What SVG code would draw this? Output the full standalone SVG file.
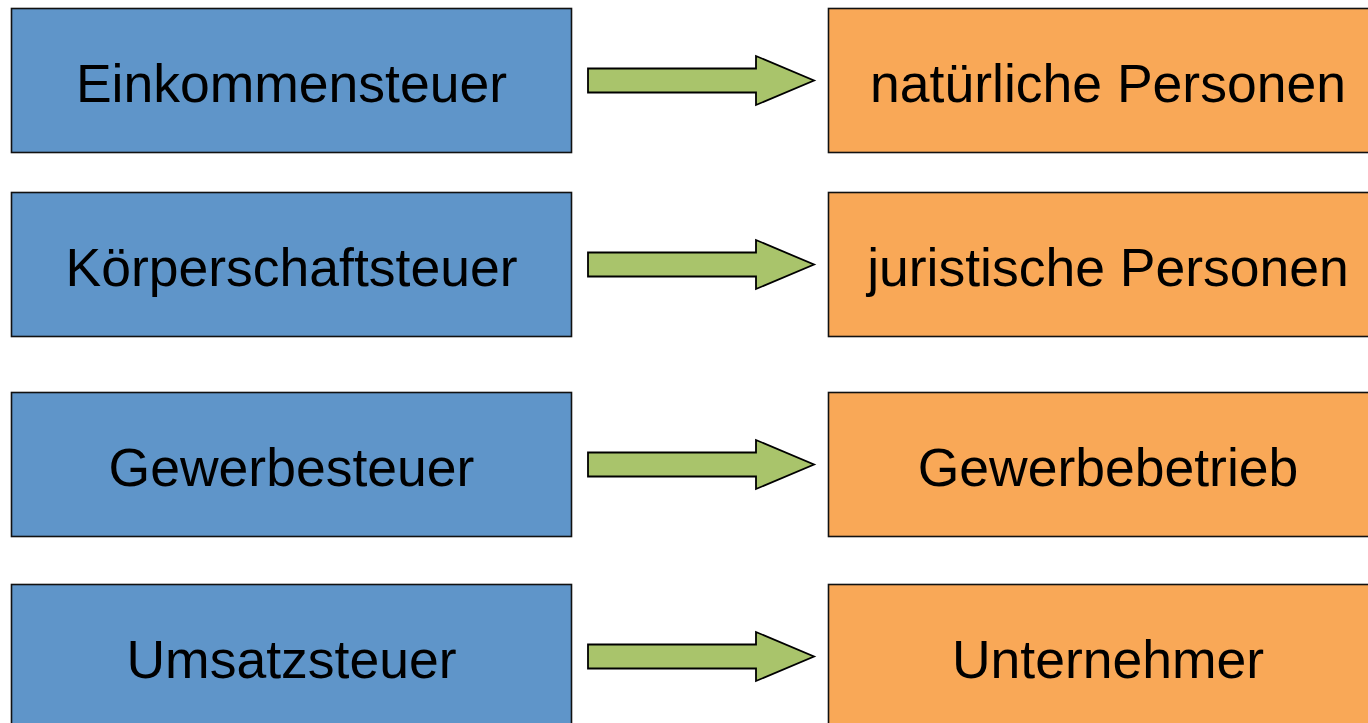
<svg xmlns="http://www.w3.org/2000/svg" width="1368" height="723" viewBox="0 0 1368 723">
<style>
.l{fill:#5f95c9;stroke:#111;stroke-width:1.6}
.r{fill:#f9a857;stroke:#111;stroke-width:1.6}
.a{fill:#a9c46b;stroke:#000;stroke-width:1.8;stroke-linejoin:miter}
text{font-family:"Liberation Sans",Arial,sans-serif;font-size:53.5px;fill:#000;text-anchor:middle}
</style>
<rect width="1368" height="723" fill="#fff"/>
<g id="n1"><rect class="l" x="11.5" y="8.5" width="560" height="144"/><text x="291.5" y="102">Einkommensteuer</text></g>
<g id="n2"><rect class="l" x="11.5" y="192.5" width="560" height="144"/><text x="291.5" y="286">Körperschaftsteuer</text></g>
<g id="n3"><rect class="l" x="11.5" y="392.5" width="560" height="144"/><text x="291.5" y="486">Gewerbesteuer</text></g>
<g id="n4"><rect class="l" x="11.5" y="584.5" width="560" height="144"/><text x="291.5" y="678">Umsatzsteuer</text></g>
<g id="m1"><rect class="r" x="828.5" y="8.5" width="560" height="144"/><text x="1108" y="102">natürliche Personen</text></g>
<g id="m2"><rect class="r" x="828.5" y="192.5" width="560" height="144"/><text x="1108" y="286">juristische Personen</text></g>
<g id="m3"><rect class="r" x="828.5" y="392.5" width="560" height="144"/><text x="1108" y="486">Gewerbebetrieb</text></g>
<g id="m4"><rect class="r" x="828.5" y="584.5" width="560" height="144"/><text x="1108" y="678">Unternehmer</text></g>
<g id="connectors">
<path class="a" d="M588 68.5H756V56L814 80.5L756 105V92.5H588Z"/>
<path class="a" d="M588 252.5H756V240L814 264.5L756 289V276.5H588Z"/>
<path class="a" d="M588 452.5H756V440L814 464.5L756 489V476.5H588Z"/>
<path class="a" d="M588 644.5H756V632L814 656.5L756 681V668.5H588Z"/>
</g>
</svg>
